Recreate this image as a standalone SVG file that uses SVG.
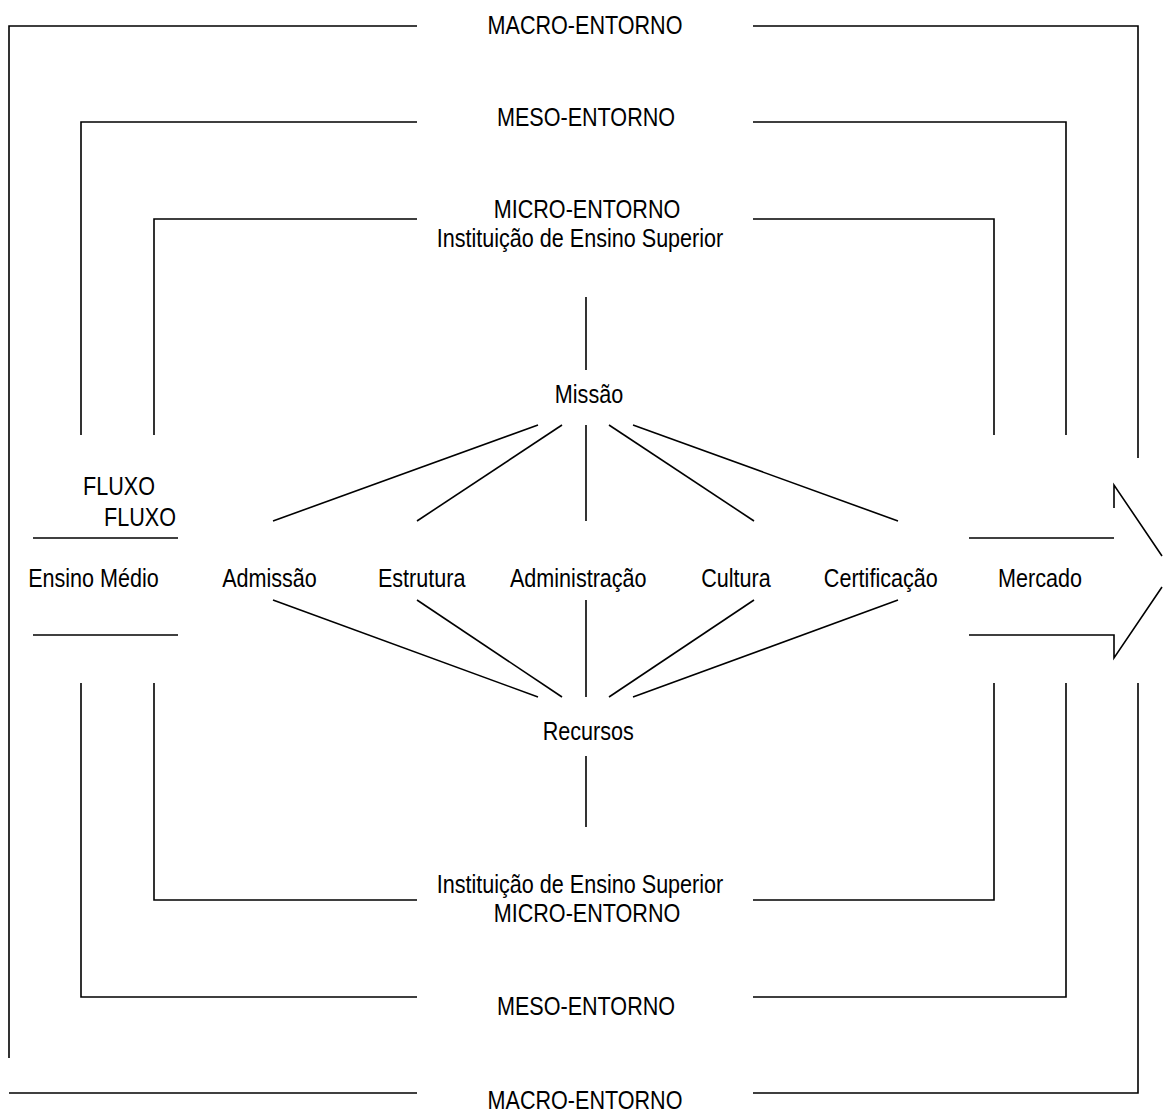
<svg xmlns="http://www.w3.org/2000/svg" width="1167" height="1113" viewBox="0 0 1167 1113">
<style>
.ln{fill:none;stroke:#000;stroke-width:1.6;stroke-linecap:butt;stroke-linejoin:miter}
.t{font-family:"Liberation Sans",Arial,sans-serif;font-size:26px;fill:#000;text-anchor:middle}
</style>
<rect width="1167" height="1113" fill="#fff"/>
<g id="frames">
<g id="macro-frame">
<polyline class="ln" points="417,26 9,26 9,1058"/>
<polyline class="ln" points="753,26 1138,26 1138,458"/>
<polyline class="ln" points="9,1093 417,1093"/>
<polyline class="ln" points="753,1093 1138,1093 1138,683"/>
</g>
<g id="meso-frame">
<polyline class="ln" points="417,122 81,122 81,435"/>
<polyline class="ln" points="753,122 1066,122 1066,435"/>
<polyline class="ln" points="81,683 81,997 417,997"/>
<polyline class="ln" points="753,997 1066,997 1066,683"/>
</g>
<g id="micro-frame">
<polyline class="ln" points="417,219 154,219 154,435"/>
<polyline class="ln" points="753,219 994,219 994,435"/>
<polyline class="ln" points="154,683 154,900 417,900"/>
<polyline class="ln" points="753,900 994,900 994,683"/>
</g>
<g id="flow">
<line class="ln" x1="33" y1="538" x2="178" y2="538"/>
<line class="ln" x1="33" y1="635" x2="178" y2="635"/>
<line class="ln" x1="969" y1="538" x2="1114" y2="538"/>
<polyline class="ln" points="1114,508 1114,485 1162,556"/>
<polyline class="ln" points="969,635 1114,635 1114,658 1162,587"/>
</g>
</g>
<g id="connectors">
<line class="ln" x1="586" y1="297" x2="586" y2="370"/>
<line class="ln" x1="538" y1="425" x2="273" y2="521"/>
<line class="ln" x1="562" y1="425" x2="417" y2="521"/>
<line class="ln" x1="586" y1="425" x2="586" y2="521"/>
<line class="ln" x1="609" y1="425" x2="754" y2="521"/>
<line class="ln" x1="633" y1="425" x2="898" y2="521"/>
<line class="ln" x1="273" y1="600" x2="538" y2="697"/>
<line class="ln" x1="417" y1="600" x2="562" y2="697"/>
<line class="ln" x1="586" y1="600" x2="586" y2="697"/>
<line class="ln" x1="754" y1="600" x2="609" y2="697"/>
<line class="ln" x1="898" y1="600" x2="633" y2="697"/>
<line class="ln" x1="586" y1="756" x2="586" y2="827"/>
</g>
<g id="labels">
<g id="macro-top"><text class="t" transform="translate(585,34) scale(0.83,1)">MACRO-ENTORNO</text></g>
<g id="meso-top"><text class="t" transform="translate(586,126) scale(0.83,1)">MESO-ENTORNO</text></g>
<g id="micro-top"><text class="t" transform="translate(587,218) scale(0.83,1)">MICRO-ENTORNO</text>
<text class="t" transform="translate(580,247) scale(0.83,1)">Instituição de Ensino Superior</text></g>
<g id="missao"><text class="t" transform="translate(589,403) scale(0.83,1)">Missão</text></g>
<g id="fluxo1"><text class="t" transform="translate(119,495) scale(0.83,1)">FLUXO</text></g>
<g id="fluxo2"><text class="t" transform="translate(140,526) scale(0.83,1)">FLUXO</text></g>
<g id="ensino-medio"><text class="t" transform="translate(93.5,587) scale(0.83,1)">Ensino Médio</text></g>
<g id="admissao"><text class="t" transform="translate(269.5,587) scale(0.83,1)">Admissão</text></g>
<g id="estrutura"><text class="t" transform="translate(421.7,587) scale(0.83,1)">Estrutura</text></g>
<g id="administracao"><text class="t" transform="translate(578.3,587) scale(0.83,1)">Administração</text></g>
<g id="cultura"><text class="t" transform="translate(736,587) scale(0.83,1)">Cultura</text></g>
<g id="certificacao"><text class="t" transform="translate(880.8,587) scale(0.83,1)">Certificação</text></g>
<g id="mercado"><text class="t" transform="translate(1040,587) scale(0.83,1)">Mercado</text></g>
<g id="recursos"><text class="t" transform="translate(588.3,740) scale(0.83,1)">Recursos</text></g>
<g id="micro-bottom"><text class="t" transform="translate(580,893) scale(0.83,1)">Instituição de Ensino Superior</text>
<text class="t" transform="translate(587,922) scale(0.83,1)">MICRO-ENTORNO</text></g>
<g id="meso-bottom"><text class="t" transform="translate(586,1015) scale(0.83,1)">MESO-ENTORNO</text></g>
<g id="macro-bottom"><text class="t" transform="translate(585,1109) scale(0.83,1)">MACRO-ENTORNO</text></g>
</g>
</svg>
